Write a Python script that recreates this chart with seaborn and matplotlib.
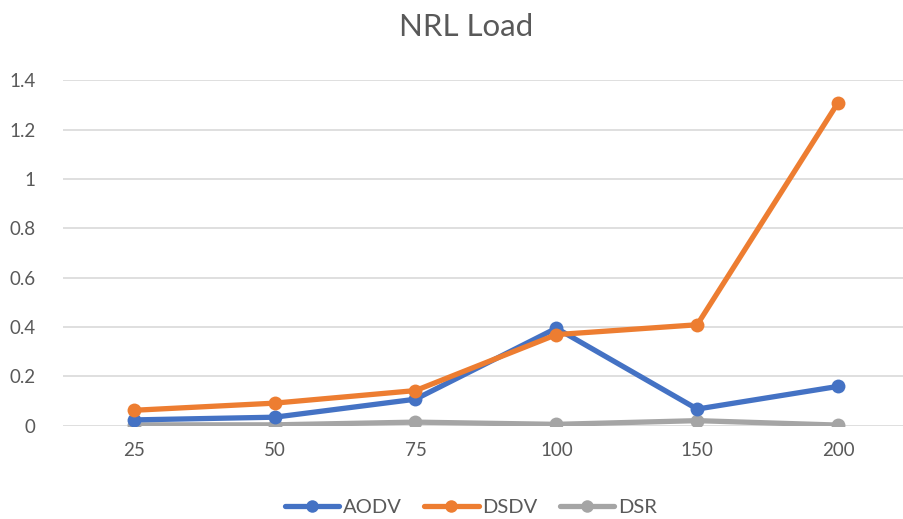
import pandas as pd
import seaborn as sns
import matplotlib.pyplot as plt

sns.set_theme(style="white")
plt.rcParams['font.family'] = ['Lato', 'DejaVu Sans']

nodes = ["25", "50", "75", "100", "150", "200"]
aodv = [0.023, 0.034, 0.107, 0.395, 0.067, 0.159]
dsdv = [0.062, 0.091, 0.142, 0.369, 0.409, 1.31]
dsr = [0.003, 0.003, 0.014, 0.005, 0.02, 0.002]

protocols = ["AODV", "DSDV", "DSR"]
colors = {"AODV": "#4472C4", "DSDV": "#ED7D31", "DSR": "#A5A5A5"}

df = pd.DataFrame({
    "nodes": nodes * 3,
    "protocol": ["AODV"] * 6 + ["DSDV"] * 6 + ["DSR"] * 6,
    "value": aodv + dsdv + dsr,
})
# categorical positions, equally spaced like the original
df["pos"] = df["nodes"].map({n: i for i, n in enumerate(nodes)})

fig = plt.figure(figsize=(9.04, 5.19), dpi=100)
ax = fig.add_axes([0.07, 0.18, 0.935, 0.665])

sns.lineplot(data=df, x="pos", y="value", hue="protocol", hue_order=protocols,
             palette=colors, marker="o", markersize=10, markeredgewidth=0,
             linewidth=3.8, ax=ax, legend=False)
# keep grey DSR underneath the coloured lines
for ln, z in zip(ax.lines, [4, 5, 3]):
    ln.set_zorder(z)

ax.set_xlim(-0.5, len(nodes) - 0.5)
ax.set_ylim(0, 1.4)
ax.set_xticks(range(len(nodes)))
ax.set_xticklabels(nodes)
ax.set_yticks([0, 0.2, 0.4, 0.6, 0.8, 1.0, 1.2, 1.4])
ax.set_yticklabels(["0", "0.2", "0.4", "0.6", "0.8", "1", "1.2", "1.4"])
ax.yaxis.grid(True, color="#D9D9D9", linewidth=1.2)
ax.set_axisbelow(True)
for s in ax.spines.values():
    s.set_visible(False)
ax.tick_params(axis="both", length=0, labelsize=13.5, labelcolor="#595959")
ax.tick_params(axis="y", pad=20)
ax.tick_params(axis="x", pad=12)
ax.set_xlabel("")
ax.set_ylabel("")

fig.text(0.516, 0.948, "NRL Load", ha="center", va="center",
         fontsize=22.5, color="#595959")

handles = [plt.Line2D([], [], color=colors[p], marker="o", markersize=9,
                      linewidth=3.8, markeredgewidth=0) for p in protocols]
fig.legend(handles, protocols, loc="center", bbox_to_anchor=(0.521, 0.022),
           ncol=3, frameon=False, fontsize=14.5, labelcolor="#595959",
           handlelength=2.7, handletextpad=0.2, columnspacing=1.1)

fig.savefig("out.png", dpi=100)
